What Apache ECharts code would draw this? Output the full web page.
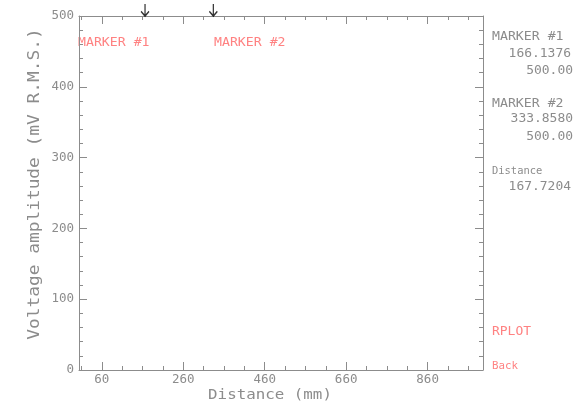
<!DOCTYPE html>
<html>
<head>
<meta charset="utf-8">
<script src="https://cdn.jsdelivr.net/npm/echarts@6/dist/echarts.min.js"></script>
<style>html,body{margin:0;padding:0;background:#fff;}#c{width:579px;height:402px;}</style>
</head>
<body>
<div id="c"></div>
<script>
var xTickLabels = [60, 260, 460, 660, 860];
var xMinorTicks = [10, 110, 160, 210, 310, 360, 410, 510, 560, 610, 710, 760, 810, 910, 960];
var markerNames = ['MARKER #1', 'MARKER #2'];
var markerX = [166.1376, 333.8580];
var markerY = [500.00, 500.00];
var distanceVal = 167.7204;
var xTitle = 'Distance (mm)';
var yTitle = 'Voltage amplitude (mV R.M.S.)';

var GREY = '#8c8c8c';
var PINK = '#ff8282';
var FONT = 'DejaVu Sans Mono';

var chart = echarts.init(document.getElementById('c'), null, {renderer: 'canvas'});

function xAx(pos, major, showLine) {
  return {
    type: 'value', position: pos, min: 4, max: 996,
    axisLine: {show: showLine, onZero: false, lineStyle: {color: GREY, width: 1}},
    axisTick: {show: true, inside: true, length: major ? 8 : 4, customValues: major ? xTickLabels : xMinorTicks, lineStyle: {color: GREY}},
    axisLabel: {show: major && pos === 'bottom', customValues: xTickLabels, color: GREY, fontFamily: FONT, fontSize: 12.5, margin: 3},
    splitLine: {show: false}
  };
}
function yAx(pos) {
  return {
    type: 'value', position: pos, min: 0, max: 500, interval: 100,
    axisLine: {show: true, onZero: false, lineStyle: {color: GREY, width: 1}},
    axisTick: {show: true, inside: true, length: 8, lineStyle: {color: GREY}},
    minorTick: {show: true, splitNumber: 5, length: 4, lineStyle: {color: GREY}},
    axisLabel: {show: pos === 'left', color: GREY, fontFamily: FONT, fontSize: 12.5, margin: 5},
    splitLine: {show: false}
  };
}

function T(text, x, y, align, size, sx, color, rot) {
  return {
    type: 'text', x: x, y: y, rotation: rot || 0, scaleX: sx,
    style: {text: text, fill: color, font: size + 'px "' + FONT + '"', align: align, verticalAlign: 'middle'}
  };
}

var rx = 492, rr = 573;
var g = [
  T(markerNames[0], rx, 37, 'left', 12, 1.1, GREY),
  T(markerX[0].toFixed(4), rr - 2, 54, 'right', 12, 1.08, GREY),
  T(markerY[0].toFixed(2), rr, 71, 'right', 12, 1.08, GREY),
  T(markerNames[1], rx, 104, 'left', 12, 1.1, GREY),
  T(markerX[1].toFixed(4), rr, 119, 'right', 12, 1.08, GREY),
  T(markerY[1].toFixed(2), rr, 137, 'right', 12, 1.08, GREY),
  T('Distance', rx, 171, 'left', 11, 0.95, GREY),
  T(distanceVal.toFixed(4), rr - 2, 187, 'right', 12, 1.08, GREY),
  T('RPLOT', rx, 332, 'left', 12, 1.08, PINK),
  T('Back', rx, 366, 'left', 11, 0.98, PINK),
  T(markerNames[0], 78, 43, 'left', 12, 1.1, PINK),
  T(markerNames[1], 214, 43, 'left', 12, 1.1, PINK),
  T(xTitle, 270, 395, 'center', 14, 1.13, GREY),
  T(yTitle, 35, 184, 'center', 15, 1.19, GREY, Math.PI / 2)
];

chart.setOption({
  animation: false,
  backgroundColor: '#fff',
  grid: {left: 79, right: 96, top: 16, bottom: 32, containLabel: false},
  xAxis: [xAx('bottom', true, true), xAx('bottom', false, false), xAx('top', true, true), xAx('top', false, false)],
  yAxis: [yAx('left'), yAx('right')],
  graphic: g,
  series: [{
    type: 'scatter', xAxisIndex: 0, yAxisIndex: 0, clip: false,
    data: markerX.map(function (x, i) { return [x, markerY[i]]; }),
    symbol: 'path://M5,0 L5,13 M1,8 L5,13 L9,8',
    symbolSize: [8, 12], symbolOffset: [0, -6],
    itemStyle: {color: 'none', borderColor: '#000', borderWidth: 1.5},
    emphasis: {disabled: true}
  }]
});
</script>
</body>
</html>
